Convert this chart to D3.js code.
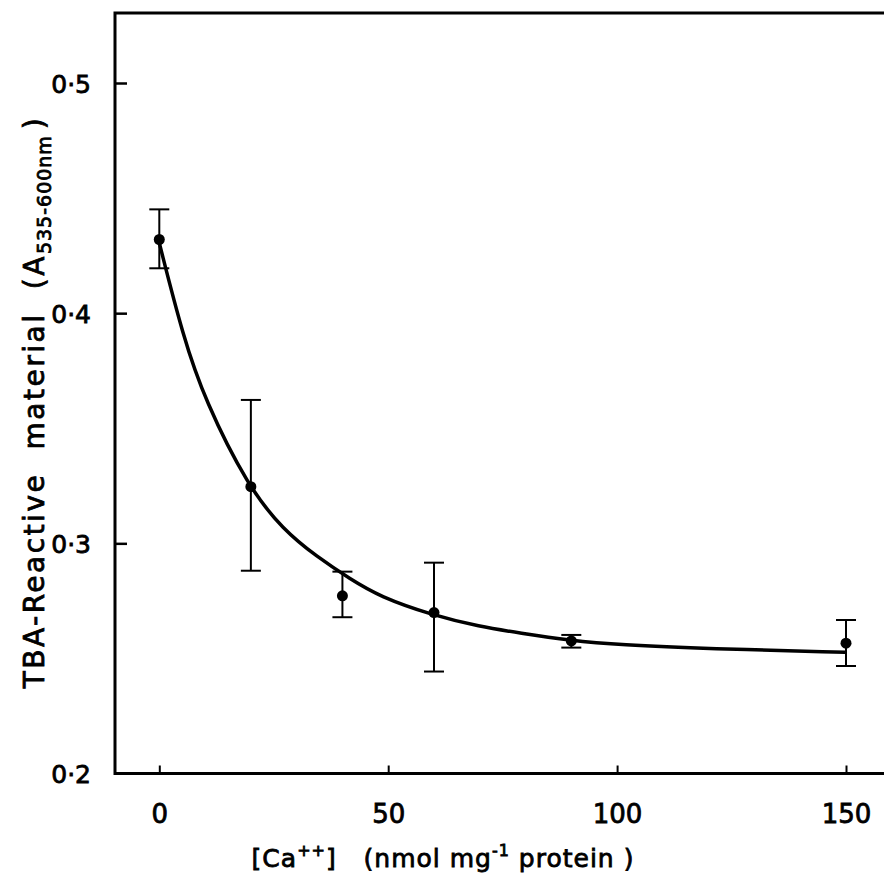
<!DOCTYPE html>
<html>
<head>
<meta charset="utf-8">
<script src="https://cdn.jsdelivr.net/npm/d3@7"></script>
<style>
	body { margin: 0; background: #fff; }
	svg text { font-family: 'DejaVu Sans', sans-serif; fill: #000; stroke: #000; stroke-width: 0.8; }
</style>
</head>
<body>
<div id="chart"></div>
<script>
// measured points (Ca++ added, TBA-reactive material) with error bar ends
let caValues = [0, 20, 40, 60, 90, 150]
let absValues = [0.432, 0.3246, 0.2772, 0.2699, 0.2576, 0.2566]
let errHigh = [0.4451, 0.3623, 0.2877, 0.2916, 0.2602, 0.2667]
let errLow = [0.4195, 0.2881, 0.2679, 0.2443, 0.2547, 0.2467]

// fitted curve
let curveX = [0, 5.2, 10, 19.4, 27.1, 34.4, 41.7, 48.2, 59.5, 70, 78.8, 89.7, 100.6, 120, 149.8]
let curveY = [0.4305, 0.3898, 0.362, 0.3246, 0.3058, 0.2942, 0.2845, 0.2768, 0.2689, 0.2638, 0.261, 0.2578, 0.2559, 0.2542, 0.2527]

let xTicks = [0, 50, 100, 150]
let yTicks = [0.2, 0.3, 0.4, 0.5]

let width = 884
let height = 875

let svg = d3
	.select('#chart')
	.append('svg:svg')
	.attr('width', width)
	.attr('height', height)

let x = d3.scaleLinear().domain([0, 150]).range([159.3, 846])
let y = d3.scaleLinear().domain([0.2, 0.5]).range([773.5, 83])

let frameLeft = 115
let frameTop = 13
let frameBottom = y(0.2)

// frame: left, top and bottom lines (right side runs off the page)
svg.append('svg:path')
	.attr('d', `M${width + 5},${frameTop}H${frameLeft}V${frameBottom}H${width + 5}`)
	.attr('fill', 'none')
	.attr('stroke', '#000')
	.attr('stroke-width', 3)

// y ticks, pointing inwards
let yAxis = svg.append('g')
	.attr('transform', `translate(${frameLeft},0)`)
	.call(d3.axisRight(y).tickValues(yTicks.slice(1)).tickSize(12).tickFormat(''))
yAxis.select('.domain').remove()
yAxis.selectAll('line').attr('stroke-width', 2.5)

let yLabels = svg.append('g')
	.attr('transform', `translate(91,0)`)
	.call(d3.axisLeft(y).tickValues(yTicks).tickSize(0).tickPadding(0)
		.tickFormat(d => d.toFixed(1).replace('.', '·')))
yLabels.select('.domain').remove()
yLabels.selectAll('text')
	.attr('font-size', 25)
	.attr('font-family', null)
	.attr('dy', '0.36em')

// x ticks, pointing inwards
let xAxis = svg.append('g')
	.attr('transform', `translate(0,${frameBottom})`)
	.call(d3.axisTop(x).tickValues(xTicks).tickSize(8).tickFormat(''))
xAxis.select('.domain').remove()
xAxis.selectAll('line').attr('stroke-width', 2)

let xLabels = svg.append('g')
	.attr('transform', `translate(0,${frameBottom + 31})`)
	.call(d3.axisBottom(x).tickValues(xTicks).tickSize(0).tickPadding(0))
xLabels.select('.domain').remove()
xLabels.selectAll('text')
	.attr('font-size', 26)
	.attr('font-family', null)

// fitted curve
let line = d3.line()
	.x(d => x(d[0]))
	.y(d => y(d[1]))
	.curve(d3.curveBasis)

svg.append('svg:path')
	.datum(d3.zip(curveX, curveY))
	.attr('d', line)
	.attr('fill', 'none')
	.attr('stroke', '#000')
	.attr('stroke-width', 3.5)

// error bars
let capW = 10
for (let i = 0; i < caValues.length; i++) {
	let cx = x(caValues[i])
	let g = svg.append('g').attr('stroke', '#000').attr('stroke-width', 2)
	g.append('svg:line')
		.attr('x1', cx).attr('x2', cx)
		.attr('y1', y(errHigh[i])).attr('y2', y(errLow[i]))
	g.append('svg:line')
		.attr('x1', cx - capW).attr('x2', cx + capW)
		.attr('y1', y(errHigh[i])).attr('y2', y(errHigh[i]))
	g.append('svg:line')
		.attr('x1', cx - capW).attr('x2', cx + capW)
		.attr('y1', y(errLow[i])).attr('y2', y(errLow[i]))
	svg.append('svg:circle')
		.attr('cx', cx)
		.attr('cy', y(absValues[i]))
		.attr('r', 5.5)
		.attr('fill', '#000')
}

// axis titles
let yTitle = svg.append('svg:text')
	.attr('transform', `translate(44,402) rotate(-90)`)
	.attr('text-anchor', 'middle')
	.attr('font-size', 28)
	.attr('letter-spacing', 2.5)
	.attr('word-spacing', 12)
yTitle.append('tspan').text('TBA-Reactive material (A')
yTitle.append('tspan').attr('font-size', 19).attr('dy', 7).attr('letter-spacing', 1).text('535-600nm')
yTitle.append('tspan').attr('dy', -7).attr('dx', 6).text(')')

let xTitle = svg.append('svg:text')
	.attr('x', 443)
	.attr('y', 867)
	.attr('text-anchor', 'middle')
	.attr('font-size', 25)
	.attr('letter-spacing', 1)
	.attr('xml:space', 'preserve')
xTitle.append('tspan').text('[Ca')
xTitle.append('tspan').attr('font-size', 16).attr('dy', -11).text('++')
xTitle.append('tspan').attr('dy', 11).text(']   (nmol mg')
xTitle.append('tspan').attr('font-size', 16).attr('dy', -11).text('-1')
xTitle.append('tspan').attr('dy', 11).text(' protein )')
</script>
</body>
</html>
